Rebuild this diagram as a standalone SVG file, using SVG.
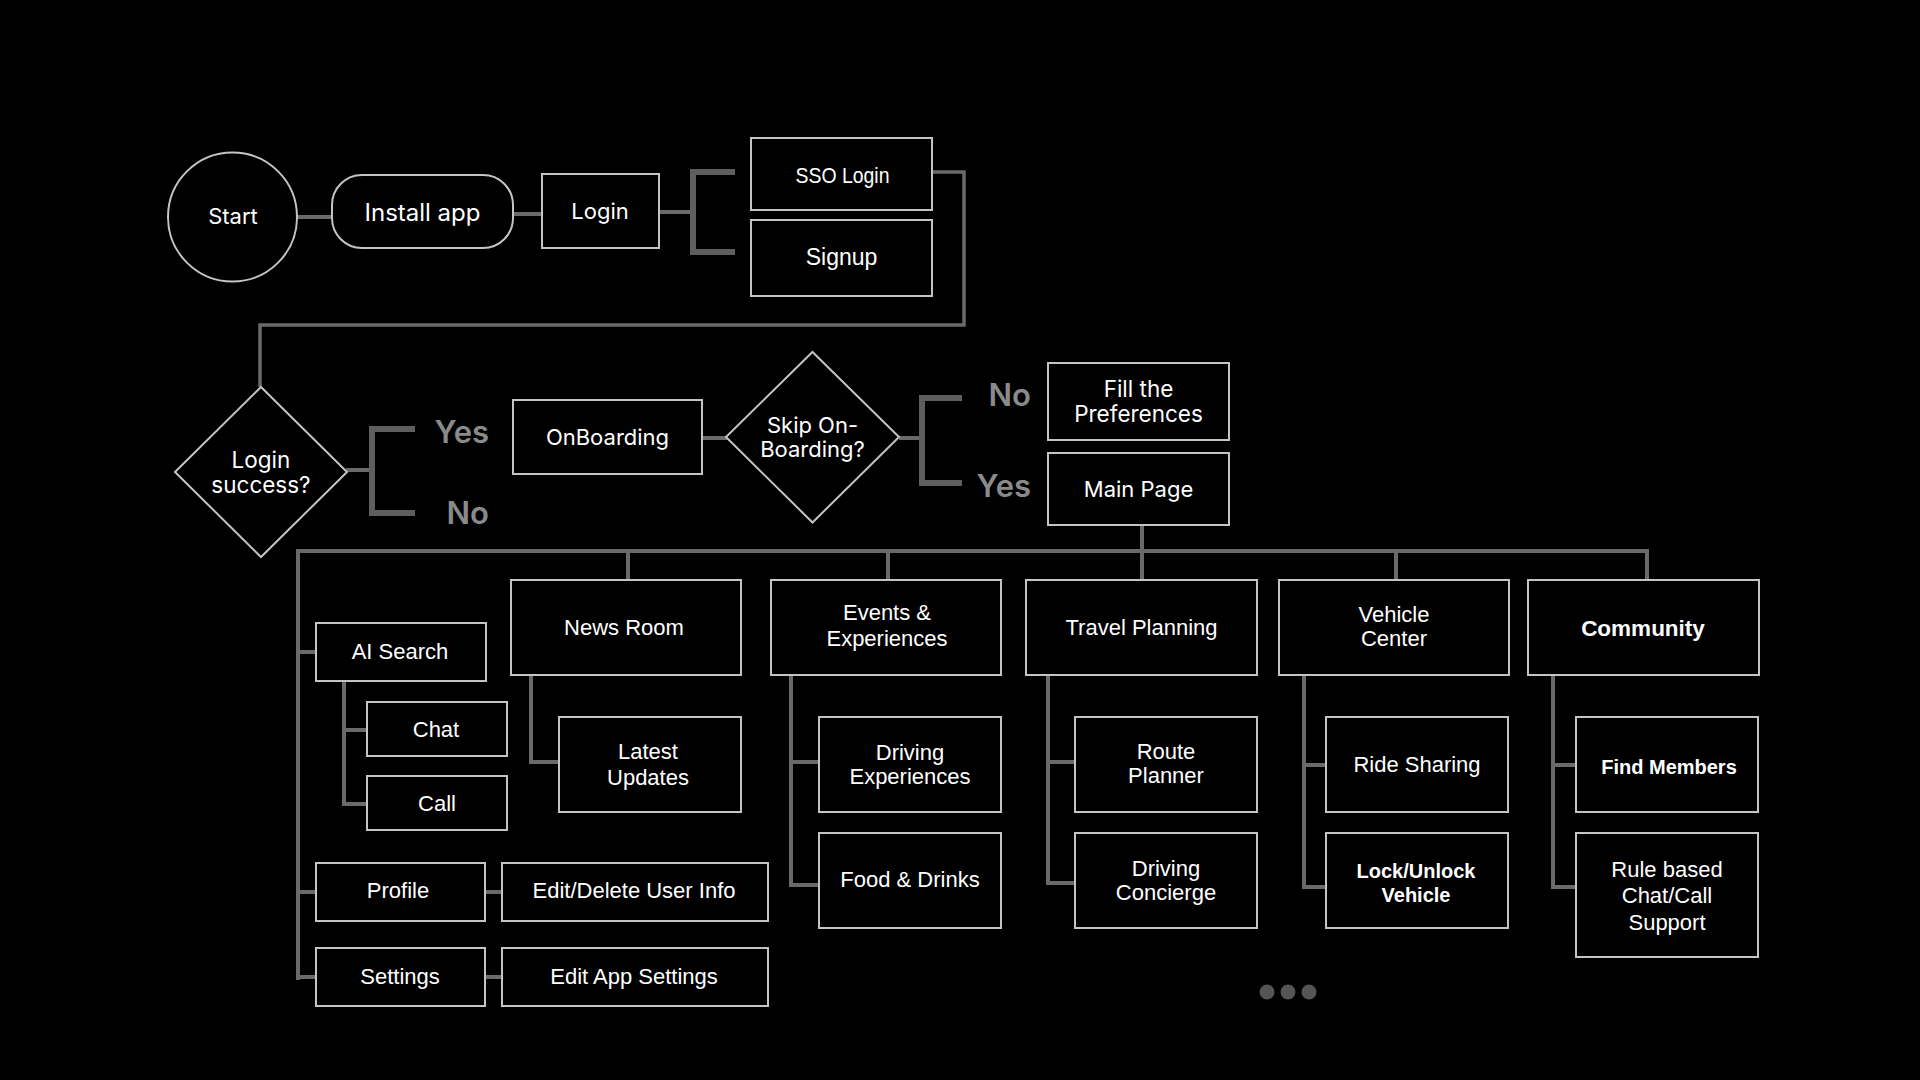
<svg xmlns="http://www.w3.org/2000/svg" width="1920" height="1080" viewBox="0 0 1920 1080">
<style>
.bx{fill:#000;stroke:#c4c4c4;stroke-width:2}
.cn{fill:none;stroke:#6a6a6a;stroke-width:4}
.br{fill:none;stroke:#5e5e5e;stroke-width:6}
.ti{font-family:Inter,"Noto Sans",sans-serif;fill:#fff;text-anchor:middle}
.ta{font-family:"Liberation Sans",Arial,sans-serif;fill:#fff;text-anchor:middle;font-size:22px}
.tb{font-family:"Liberation Sans",Arial,sans-serif;fill:#fff;text-anchor:middle;font-weight:bold;font-size:20px}
.lb{font-family:Inter,"Noto Sans",sans-serif;fill:#8a8a8a;font-weight:600;font-size:31px;text-anchor:end}
</style>
<rect width="1920" height="1080" fill="#000"/>
<g id="connectors">
<line class="cn" x1="297" y1="217" x2="332" y2="217"/>
<line class="cn" x1="513" y1="214" x2="542" y2="214"/>
<line class="cn" x1="659" y1="212" x2="693" y2="212"/>
<path class="br" d="M735,172 H693 V252 H735"/>
<path class="cn" d="M932,172 H964 V325 H260 V387" style="stroke-width:3.5px"/>
<line class="cn" x1="346" y1="470" x2="372" y2="470"/>
<path class="br" d="M415,429 H372 V513 H415"/>
<line class="cn" x1="702" y1="438" x2="727" y2="438"/>
<line class="cn" x1="899" y1="438" x2="922" y2="438"/>
<path class="br" d="M962,398 H922 V483 H962"/>
<line class="cn" x1="1142" y1="525" x2="1142" y2="580"/>
<path class="cn" d="M298,980 V551 H1647 V580"/>
<line class="cn" x1="628" y1="551" x2="628" y2="580"/>
<line class="cn" x1="888" y1="551" x2="888" y2="580"/>
<line class="cn" x1="1396" y1="551" x2="1396" y2="580"/>
<line class="cn" x1="298" y1="652" x2="316" y2="652"/>
<line class="cn" x1="298" y1="892" x2="316" y2="892"/>
<line class="cn" x1="298" y1="977" x2="316" y2="977"/>
<path class="cn" d="M344,681 V804 H367"/>
<line class="cn" x1="344" y1="730" x2="367" y2="730"/>
<line class="cn" x1="485" y1="892" x2="502" y2="892"/>
<line class="cn" x1="485" y1="977" x2="502" y2="977"/>
<path class="cn" d="M531,675 V762 H559"/>
<path class="cn" d="M791,675 V885 H819"/>
<line class="cn" x1="791" y1="762" x2="819" y2="762"/>
<path class="cn" d="M1048,675 V883 H1075"/>
<line class="cn" x1="1048" y1="762" x2="1075" y2="762"/>
<path class="cn" d="M1304,675 V887 H1326"/>
<line class="cn" x1="1304" y1="765" x2="1326" y2="765"/>
<path class="cn" d="M1553,675 V887 H1576"/>
<line class="cn" x1="1553" y1="765" x2="1576" y2="765"/>
</g>
<g id="start"><circle class="bx" cx="232.5" cy="217" r="64.5"/><text class="ti" x="233" y="224" font-size="22">Start</text></g>
<g id="install"><rect class="bx" x="332" y="175" width="181" height="73" rx="30"/><text class="ti" x="422.5" y="221" font-size="24">Install app</text></g>
<g id="login"><rect class="bx" x="542" y="174" width="117" height="74"/><text class="ti" x="600" y="219" font-size="22">Login</text></g>
<g id="sso"><rect class="bx" x="751" y="138" width="181" height="72"/><text class="ta" x="842.5" y="183" textLength="94" lengthAdjust="spacingAndGlyphs">SSO Login</text></g>
<g id="signup"><rect class="bx" x="751" y="220" width="181" height="76"/><text class="ta" x="841.5" y="265" style="font-size:23px">Signup</text></g>
<g id="login-success"><polygon class="bx" points="261,387 347,472 261,557 175,472"/><text class="ti" x="261" y="468" font-size="22.5">Login</text><text class="ti" x="261" y="493" font-size="22.5">success?</text></g>
<g id="onboarding"><rect class="bx" x="513" y="400" width="189" height="74"/><text class="ti" x="607.5" y="445" font-size="22">OnBoarding</text></g>
<g id="skip"><polygon class="bx" points="812.5,352 899,437 812.5,522.5 726,437"/><text class="ti" x="812.5" y="433" font-size="22">Skip On-</text><text class="ti" x="812.5" y="457" font-size="22">Boarding?</text></g>
<g id="fill-prefs"><rect class="bx" x="1048" y="363" width="181" height="77"/><text class="ti" x="1138.5" y="397" font-size="22.5">Fill the</text><text class="ti" x="1138.5" y="422" font-size="22.5">Preferences</text></g>
<g id="main-page"><rect class="bx" x="1048" y="453" width="181" height="72"/><text class="ti" x="1138.5" y="497" font-size="22">Main Page</text></g>
<g id="labels">
<text class="lb" x="489" y="443">Yes</text>
<text class="lb" x="489" y="524">No</text>
<text class="lb" x="1031" y="406">No</text>
<text class="lb" x="1031" y="497">Yes</text>
</g>
<g id="news-room"><rect class="bx" x="511" y="580" width="230" height="95"/><text class="ta" x="624" y="635">News Room</text></g>
<g id="events"><rect class="bx" x="771" y="580" width="230" height="95"/><text class="ta" x="887" y="620">Events &amp;</text><text class="ta" x="887" y="646">Experiences</text></g>
<g id="travel"><rect class="bx" x="1026" y="580" width="231" height="95"/><text class="ta" x="1141.5" y="635">Travel Planning</text></g>
<g id="vehicle"><rect class="bx" x="1279" y="580" width="230" height="95"/><text class="ta" x="1394" y="622">Vehicle</text><text class="ta" x="1394" y="646">Center</text></g>
<g id="community"><rect class="bx" x="1528" y="580" width="231" height="95"/><text class="tb" x="1643" y="636" style="font-size:22.5px">Community</text></g>
<g id="ai-search"><rect class="bx" x="316" y="623" width="170" height="58"/><text class="ta" x="400" y="659">AI Search</text></g>
<g id="chat"><rect class="bx" x="367" y="702" width="140" height="54"/><text class="ta" x="436" y="737">Chat</text></g>
<g id="call"><rect class="bx" x="367" y="776" width="140" height="54"/><text class="ta" x="437" y="811">Call</text></g>
<g id="latest"><rect class="bx" x="559" y="717" width="182" height="95"/><text class="ta" x="648" y="759">Latest</text><text class="ta" x="648" y="785">Updates</text></g>
<g id="driving-exp"><rect class="bx" x="819" y="717" width="182" height="95"/><text class="ta" x="910" y="760">Driving</text><text class="ta" x="910" y="784">Experiences</text></g>
<g id="food"><rect class="bx" x="819" y="833" width="182" height="95"/><text class="ta" x="910" y="887">Food &amp; Drinks</text></g>
<g id="route"><rect class="bx" x="1075" y="717" width="182" height="95"/><text class="ta" x="1166" y="759">Route</text><text class="ta" x="1166" y="783">Planner</text></g>
<g id="concierge"><rect class="bx" x="1075" y="833" width="182" height="95"/><text class="ta" x="1166" y="876">Driving</text><text class="ta" x="1166" y="900">Concierge</text></g>
<g id="ride"><rect class="bx" x="1326" y="717" width="182" height="95"/><text class="ta" x="1417" y="772">Ride Sharing</text></g>
<g id="lock"><rect class="bx" x="1326" y="833" width="182" height="95"/><text class="tb" x="1416" y="878">Lock/Unlock</text><text class="tb" x="1416" y="902">Vehicle</text></g>
<g id="find"><rect class="bx" x="1576" y="717" width="182" height="95"/><text class="tb" x="1669" y="774">Find Members</text></g>
<g id="rule"><rect class="bx" x="1576" y="833" width="182" height="124"/><text class="ta" x="1667" y="877">Rule based</text><text class="ta" x="1667" y="903">Chat/Call</text><text class="ta" x="1667" y="930">Support</text></g>
<g id="profile"><rect class="bx" x="316" y="863" width="169" height="58"/><text class="ta" x="398" y="898">Profile</text></g>
<g id="edit-user"><rect class="bx" x="502" y="863" width="266" height="58"/><text class="ta" x="634" y="898">Edit/Delete User Info</text></g>
<g id="settings"><rect class="bx" x="316" y="948" width="169" height="58"/><text class="ta" x="400" y="984">Settings</text></g>
<g id="edit-app"><rect class="bx" x="502" y="948" width="266" height="58"/><text class="ta" x="634" y="984">Edit App Settings</text></g>
<g id="more" fill="#555"><circle cx="1267" cy="992" r="7.5"/><circle cx="1288" cy="992" r="7.5"/><circle cx="1309" cy="992" r="7.5"/></g>
</svg>
